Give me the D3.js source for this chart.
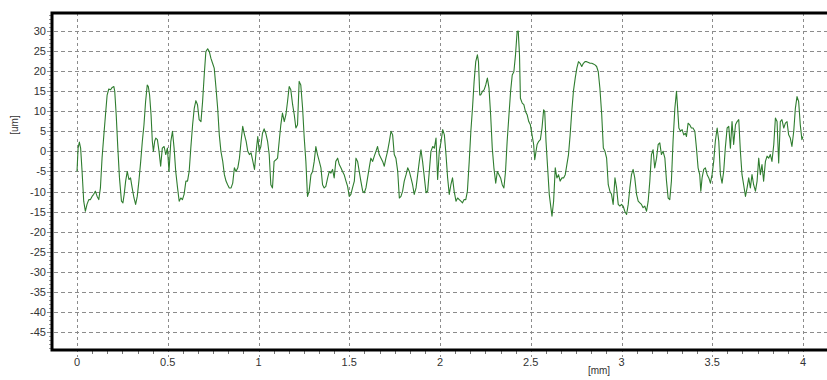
<!DOCTYPE html>
<html>
<head>
<meta charset="utf-8">
<script src="https://cdn.jsdelivr.net/npm/d3@7"></script>
<style>
  body { margin: 0; background: #fff; }
  text { font-family: Arial, "Liberation Sans", sans-serif; }
</style>
</head>
<body>
<svg id="chart" width="827" height="380"></svg>
<script>
// tick labels
const yTicks = [30, 25, 20, 15, 10, 5, 0, -5, -10, -15, -20, -25, -30, -35, -40, -45];
const xTicks = [0, 0.5, 1, 1.5, 2, 2.5, 3, 3.5, 4];

// roughness profile: [position mm, height um]
const profile = [
  [0.000,-5.0],[0.006,0.8],[0.013,2.3],[0.020,0.8],[0.028,-5.0],[0.037,-12.4],[0.046,-14.9],[0.055,-13.2],
  [0.065,-12.0],[0.074,-12.0],[0.083,-11.2],[0.092,-10.7],[0.101,-9.9],[0.111,-11.2],[0.120,-12.0],[0.129,-9.1],
  [0.138,-1.7],[0.148,4.1],[0.157,9.1],[0.166,14.0],[0.175,15.5],[0.185,15.3],[0.194,15.9],[0.203,16.1],
  [0.208,14.9],[0.216,9.1],[0.225,0.8],[0.234,-6.6],[0.245,-12.4],[0.253,-12.8],[0.260,-10.7],[0.268,-7.4],
  [0.277,-5.0],[0.286,-7.0],[0.295,-6.6],[0.304,-9.1],[0.314,-11.6],[0.323,-13.2],[0.332,-11.2],[0.341,-7.4],
  [0.351,-2.5],[0.360,2.5],[0.369,6.6],[0.378,12.4],[0.387,16.5],[0.393,16.1],[0.400,14.0],[0.408,9.1],
  [0.415,2.5],[0.421,0.0],[0.428,2.5],[0.434,3.3],[0.443,2.9],[0.452,0.0],[0.461,-3.7],[0.470,0.8],
  [0.480,1.2],[0.489,-0.8],[0.498,0.8],[0.507,-5.0],[0.517,2.5],[0.526,5.0],[0.535,0.8],[0.544,-5.0],
  [0.554,-9.1],[0.563,-12.4],[0.572,-11.6],[0.581,-12.0],[0.590,-10.7],[0.600,-7.4],[0.609,-7.4],[0.618,-5.0],
  [0.627,0.8],[0.637,6.6],[0.646,10.7],[0.655,12.6],[0.664,11.6],[0.673,7.9],[0.683,7.4],[0.692,12.4],
  [0.701,19.0],[0.710,24.8],[0.720,25.5],[0.729,24.8],[0.738,23.1],[0.747,21.9],[0.756,20.7],[0.766,15.7],
  [0.775,10.7],[0.784,4.1],[0.793,0.0],[0.803,-2.5],[0.812,-5.8],[0.821,-7.4],[0.830,-8.3],[0.839,-9.1],
  [0.849,-9.1],[0.858,-7.9],[0.867,-4.1],[0.876,-5.0],[0.886,-4.1],[0.895,-1.7],[0.904,2.5],[0.913,6.2],
  [0.923,4.1],[0.932,2.5],[0.941,0.0],[0.950,-0.8],[0.959,-0.4],[0.969,-2.5],[0.978,-4.5],[0.987,0.0],
  [0.996,3.7],[1.004,0.0],[1.013,1.2],[1.022,4.5],[1.031,5.6],[1.040,4.5],[1.050,2.5],[1.059,-0.8],
  [1.068,-8.3],[1.077,-9.1],[1.086,-2.5],[1.096,-2.1],[1.105,-1.7],[1.114,2.5],[1.123,6.6],[1.132,9.5],
  [1.142,7.4],[1.151,9.1],[1.160,12.4],[1.169,16.1],[1.178,15.3],[1.188,11.6],[1.197,9.1],[1.206,5.8],
  [1.215,6.6],[1.224,17.4],[1.233,16.5],[1.243,10.7],[1.252,3.3],[1.261,-2.5],[1.270,-11.2],[1.279,-9.9],
  [1.289,-5.8],[1.298,-5.0],[1.307,-2.5],[1.316,1.2],[1.325,-0.8],[1.335,-2.5],[1.344,-4.1],[1.353,-8.3],
  [1.362,-9.1],[1.371,-8.7],[1.381,-6.6],[1.390,-5.0],[1.399,-5.4],[1.408,-4.5],[1.417,-6.6],[1.426,-2.5],
  [1.436,-1.7],[1.445,-3.3],[1.454,-4.1],[1.463,-5.0],[1.472,-5.8],[1.482,-7.4],[1.491,-8.7],[1.500,-11.2],
  [1.509,-10.7],[1.518,-9.1],[1.528,-7.4],[1.537,-1.7],[1.546,-2.5],[1.555,-5.0],[1.564,-7.4],[1.574,-9.9],
  [1.583,-10.3],[1.592,-9.1],[1.601,-6.6],[1.610,-4.1],[1.619,-1.7],[1.629,-2.5],[1.638,-1.2],[1.647,0.0],
  [1.656,1.2],[1.665,-0.8],[1.675,-1.7],[1.684,-2.5],[1.693,-3.7],[1.702,-1.7],[1.711,0.0],[1.721,2.5],
  [1.730,5.0],[1.739,4.1],[1.748,-0.8],[1.757,-1.7],[1.767,-5.0],[1.776,-11.6],[1.785,-11.2],[1.794,-9.9],
  [1.803,-7.4],[1.813,-5.8],[1.822,-4.1],[1.831,-5.0],[1.840,-6.6],[1.849,-8.3],[1.858,-10.7],[1.868,-9.1],
  [1.877,-5.8],[1.886,-2.5],[1.895,0.4],[1.904,-2.5],[1.914,-6.6],[1.923,-10.3],[1.932,-9.9],[1.941,-5.0],
  [1.950,0.0],[1.960,1.2],[1.969,0.8],[1.978,3.3],[1.987,-7.0],[1.996,0.0],[2.006,2.5],[2.015,5.4],
  [2.024,4.1],[2.033,-0.8],[2.042,-6.6],[2.051,-10.7],[2.060,-8.3],[2.069,-6.6],[2.078,-9.9],[2.088,-12.4],
  [2.097,-11.6],[2.106,-12.0],[2.115,-12.4],[2.124,-12.8],[2.133,-12.0],[2.142,-12.0],[2.151,-9.9],[2.161,-2.5],
  [2.170,5.0],[2.179,10.7],[2.188,17.4],[2.197,22.3],[2.206,24.0],[2.212,22.3],[2.219,14.0],[2.224,14.0],
  [2.234,14.9],[2.243,15.3],[2.252,16.5],[2.261,18.2],[2.270,15.7],[2.279,9.1],[2.288,0.8],[2.297,-4.1],
  [2.307,-7.9],[2.316,-5.0],[2.325,-5.8],[2.334,-6.6],[2.343,-8.3],[2.352,-9.1],[2.361,-5.0],[2.370,2.5],
  [2.380,9.1],[2.389,14.9],[2.398,19.0],[2.407,19.8],[2.416,24.0],[2.425,29.8],[2.431,29.9],[2.438,24.0],
  [2.443,13.2],[2.453,12.0],[2.462,11.6],[2.471,9.9],[2.480,9.1],[2.489,7.4],[2.498,6.6],[2.507,4.1],
  [2.516,1.7],[2.522,-2.1],[2.529,0.0],[2.535,1.7],[2.544,2.5],[2.553,2.9],[2.562,5.8],[2.571,10.3],
  [2.577,9.9],[2.584,2.5],[2.593,-4.1],[2.602,-10.7],[2.611,-14.0],[2.617,-16.1],[2.626,-12.4],[2.635,-4.1],
  [2.644,-6.6],[2.653,-5.8],[2.662,-7.4],[2.672,-6.6],[2.681,-6.6],[2.690,-5.8],[2.699,-3.3],[2.708,-0.8],
  [2.717,4.1],[2.726,9.9],[2.735,14.9],[2.745,18.2],[2.754,20.7],[2.763,22.3],[2.772,21.9],[2.781,21.1],
  [2.790,21.9],[2.799,22.3],[2.808,22.3],[2.818,22.1],[2.827,21.9],[2.836,21.9],[2.845,21.7],[2.854,21.5],
  [2.863,21.1],[2.872,19.8],[2.881,15.7],[2.891,9.1],[2.900,0.8],[2.909,0.0],[2.918,-1.7],[2.927,-8.3],
  [2.936,-9.9],[2.945,-10.7],[2.954,-13.2],[2.964,-6.6],[2.973,-9.1],[2.982,-13.2],[2.991,-13.6],[3.000,-13.2],
  [3.009,-13.6],[3.018,-14.9],[3.028,-15.7],[3.037,-13.2],[3.046,-9.1],[3.055,-5.8],[3.064,-4.5],[3.073,-6.6],
  [3.083,-10.7],[3.092,-12.4],[3.101,-12.8],[3.110,-13.2],[3.119,-14.0],[3.128,-13.6],[3.138,-14.9],[3.147,-12.4],
  [3.156,-7.4],[3.165,-0.8],[3.174,0.4],[3.183,-4.1],[3.193,-1.7],[3.202,1.7],[3.211,2.1],[3.220,-0.8],
  [3.229,0.0],[3.239,-1.7],[3.248,-7.4],[3.257,-11.6],[3.266,-12.0],[3.275,-7.4],[3.284,2.5],[3.294,10.7],
  [3.303,14.9],[3.308,11.6],[3.316,5.8],[3.325,5.0],[3.334,5.4],[3.343,4.1],[3.352,4.5],[3.358,3.7],
  [3.367,7.0],[3.376,6.6],[3.385,5.8],[3.394,5.8],[3.404,5.0],[3.413,0.8],[3.422,-4.1],[3.431,-5.8],
  [3.437,-9.9],[3.444,-6.6],[3.453,-4.5],[3.462,-4.1],[3.472,-5.8],[3.481,-6.6],[3.490,-7.9],[3.499,-5.8],
  [3.508,-2.5],[3.517,2.5],[3.527,5.8],[3.536,2.5],[3.545,-5.8],[3.554,-7.9],[3.563,-5.0],[3.572,0.8],
  [3.582,5.8],[3.591,6.2],[3.600,0.8],[3.609,7.4],[3.618,1.7],[3.628,6.6],[3.637,7.4],[3.646,7.9],
  [3.655,0.0],[3.664,-5.8],[3.673,-8.3],[3.683,-11.2],[3.692,-9.1],[3.701,-6.6],[3.710,-9.1],[3.719,-5.8],
  [3.728,-8.3],[3.738,-9.9],[3.747,-7.4],[3.756,-1.7],[3.765,-5.8],[3.774,-3.3],[3.783,-7.4],[3.793,-2.5],
  [3.802,-1.2],[3.811,-1.7],[3.820,-0.8],[3.829,-2.5],[3.839,1.7],[3.848,8.3],[3.857,7.4],[3.866,-2.9],
  [3.875,7.4],[3.884,7.9],[3.894,5.8],[3.903,7.0],[3.912,7.4],[3.921,4.1],[3.930,3.3],[3.939,1.2],
  [3.949,5.0],[3.958,10.7],[3.967,13.6],[3.976,12.4],[3.985,6.6],[3.994,2.9],[4.000,3.7]
];

const svg = d3.select('#chart');

// plot frame (the right side runs off the picture)
const frame = { left: 52, top: 13, right: 830, bottom: 350 };

const x = d3.scaleLinear().domain([0, 4]).range([77, 803]);
const y = d3.scaleLinear().domain([-45, 30]).range([332.3, 30.7]);

const gridColor = '#8c8c8c';

// horizontal grid
svg.append('g')
  .selectAll('line')
  .data(yTicks)
  .enter()
  .append('line')
  .attr('x1', frame.left - 5)
  .attr('x2', frame.right)
  .attr('y1', d => Math.round(y(d)) + 0.5)
  .attr('y2', d => Math.round(y(d)) + 0.5)
  .style('stroke', gridColor)
  .style('stroke-width', 1)
  .style('stroke-dasharray', '4,3');

// vertical grid (runs below the axis as major tick)
svg.append('g')
  .selectAll('line')
  .data(xTicks)
  .enter()
  .append('line')
  .attr('x1', d => Math.round(x(d)) + 0.5)
  .attr('x2', d => Math.round(x(d)) + 0.5)
  .attr('y1', frame.top)
  .attr('y2', frame.bottom + 7)
  .style('stroke', gridColor)
  .style('stroke-width', 1)
  .style('stroke-dasharray', '3,3');

// minor ticks on x, every 1/12 mm
const xMinor = d3.range(0, 49).map(k => k / 12).filter(v => xTicks.indexOf(v) < 0 && Math.abs(v * 2 - Math.round(v * 2)) > 1e-6);
svg.append('g')
  .selectAll('line')
  .data(xMinor)
  .enter()
  .append('line')
  .attr('x1', d => Math.round(x(d)) + 0.5)
  .attr('x2', d => Math.round(x(d)) + 0.5)
  .attr('y1', frame.bottom)
  .attr('y2', frame.bottom + 4)
  .style('stroke', '#777')
  .style('stroke-width', 1);

// minor ticks on y, every 1 um
const yMinor = d3.range(-49, 35).filter(v => v % 5 !== 0);
svg.append('g')
  .selectAll('line')
  .data(yMinor)
  .enter()
  .append('line')
  .attr('x1', frame.left - 3)
  .attr('x2', frame.left)
  .attr('y1', d => Math.round(y(d)) + 0.5)
  .attr('y2', d => Math.round(y(d)) + 0.5)
  .style('stroke', '#999')
  .style('stroke-width', 1);

// profile line
const line = d3.line()
  .x(d => x(d[0]))
  .y(d => y(d[1]));

svg.append('path')
  .datum(profile)
  .attr('d', line)
  .style('fill', 'none')
  .style('stroke', '#2f7d2f')
  .style('stroke-width', 1.1)
  .style('stroke-linejoin', 'round');

// heavy black frame: left, top, bottom
svg.append('path')
  .attr('d', `M${frame.right},${frame.top} L${frame.left},${frame.top} L${frame.left},${frame.bottom} L${frame.right},${frame.bottom}`)
  .style('fill', 'none')
  .style('stroke', '#000')
  .style('stroke-width', 3);

// y tick labels
svg.append('g')
  .selectAll('text')
  .data(yTicks)
  .enter()
  .append('text')
  .attr('x', 46)
  .attr('y', d => y(d) + 4)
  .attr('text-anchor', 'end')
  .style('font-size', '11px')
  .style('fill', '#333')
  .text(d => d);

// x tick labels
svg.append('g')
  .selectAll('text')
  .data(xTicks)
  .enter()
  .append('text')
  .attr('x', d => x(d))
  .attr('y', 366)
  .attr('text-anchor', 'middle')
  .style('font-size', '11px')
  .style('fill', '#333')
  .text(d => d);

// axis titles
svg.append('text')
  .attr('transform', 'translate(18,125) rotate(-90)')
  .attr('text-anchor', 'middle')
  .style('font-size', '10px')
  .style('fill', '#333')
  .text('[um]');

svg.append('text')
  .attr('x', 599)
  .attr('y', 374)
  .attr('text-anchor', 'middle')
  .style('font-size', '10px')
  .style('fill', '#333')
  .text('[mm]');
</script>
</body>
</html>
